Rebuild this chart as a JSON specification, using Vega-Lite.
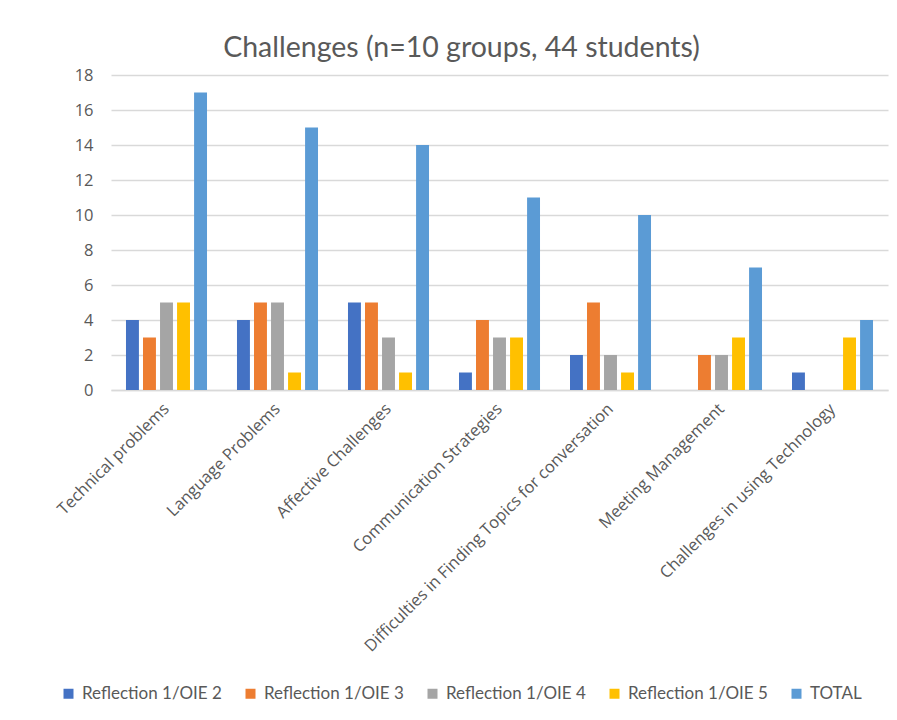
{
  "$schema": "https://vega.github.io/schema/vega-lite/v6.json",
  "width": 777,
  "height": 315,
  "autosize": {"type": "none"},
  "padding": {"left": 111, "top": 75, "right": 9, "bottom": 330},
  "background": "white",
  "title": {
    "text": "Challenges (n=10 groups, 44 students)",
    "font": "Lato",
    "fontSize": 28.5,
    "fontWeight": "normal",
    "color": "#595959",
    "anchor": "middle",
    "dx": -38,
    "offset": 5
  },
  "data": {
    "values": [
      {"category": "Technical problems", "series": "Reflection 1/OIE 2", "value": 4},
      {"category": "Technical problems", "series": "Reflection 1/OIE 3", "value": 3},
      {"category": "Technical problems", "series": "Reflection 1/OIE 4", "value": 5},
      {"category": "Technical problems", "series": "Reflection 1/OIE 5", "value": 5},
      {"category": "Technical problems", "series": "TOTAL", "value": 17},
      {"category": "Language Problems", "series": "Reflection 1/OIE 2", "value": 4},
      {"category": "Language Problems", "series": "Reflection 1/OIE 3", "value": 5},
      {"category": "Language Problems", "series": "Reflection 1/OIE 4", "value": 5},
      {"category": "Language Problems", "series": "Reflection 1/OIE 5", "value": 1},
      {"category": "Language Problems", "series": "TOTAL", "value": 15},
      {"category": "Affective Challenges", "series": "Reflection 1/OIE 2", "value": 5},
      {"category": "Affective Challenges", "series": "Reflection 1/OIE 3", "value": 5},
      {"category": "Affective Challenges", "series": "Reflection 1/OIE 4", "value": 3},
      {"category": "Affective Challenges", "series": "Reflection 1/OIE 5", "value": 1},
      {"category": "Affective Challenges", "series": "TOTAL", "value": 14},
      {"category": "Communication Strategies", "series": "Reflection 1/OIE 2", "value": 1},
      {"category": "Communication Strategies", "series": "Reflection 1/OIE 3", "value": 4},
      {"category": "Communication Strategies", "series": "Reflection 1/OIE 4", "value": 3},
      {"category": "Communication Strategies", "series": "Reflection 1/OIE 5", "value": 3},
      {"category": "Communication Strategies", "series": "TOTAL", "value": 11},
      {"category": "Difficulties in Finding Topics for conversation", "series": "Reflection 1/OIE 2", "value": 2},
      {"category": "Difficulties in Finding Topics for conversation", "series": "Reflection 1/OIE 3", "value": 5},
      {"category": "Difficulties in Finding Topics for conversation", "series": "Reflection 1/OIE 4", "value": 2},
      {"category": "Difficulties in Finding Topics for conversation", "series": "Reflection 1/OIE 5", "value": 1},
      {"category": "Difficulties in Finding Topics for conversation", "series": "TOTAL", "value": 10},
      {"category": "Meeting Management", "series": "Reflection 1/OIE 2", "value": 0},
      {"category": "Meeting Management", "series": "Reflection 1/OIE 3", "value": 2},
      {"category": "Meeting Management", "series": "Reflection 1/OIE 4", "value": 2},
      {"category": "Meeting Management", "series": "Reflection 1/OIE 5", "value": 3},
      {"category": "Meeting Management", "series": "TOTAL", "value": 7},
      {"category": "Challenges in using Technology", "series": "Reflection 1/OIE 2", "value": 1},
      {"category": "Challenges in using Technology", "series": "Reflection 1/OIE 3", "value": 0},
      {"category": "Challenges in using Technology", "series": "Reflection 1/OIE 4", "value": 0},
      {"category": "Challenges in using Technology", "series": "Reflection 1/OIE 5", "value": 3},
      {"category": "Challenges in using Technology", "series": "TOTAL", "value": 4}
    ]
  },
  "mark": {"type": "bar"},
  "encoding": {
    "x": {
      "field": "category",
      "type": "nominal",
      "sort": null,
      "scale": {"paddingInner": 0.27, "paddingOuter": 0.135},
      "axis": {
        "title": null,
        "labelAngle": -45,
        "labelAlign": "right",
        "labelBaseline": "middle",
        "labelFont": "Open Sans",
        "labelFontSize": 16.5,
        "labelColor": "#595959",
        "labelPadding": 16,
        "labelLimit": 400,
        "ticks": false,
        "domainColor": "#d9d9d9",
        "domainWidth": 1.5
      }
    },
    "xOffset": {
      "field": "series",
      "type": "nominal",
      "sort": null,
      "scale": {"paddingInner": 0.24}
    },
    "y": {
      "field": "value",
      "type": "quantitative",
      "scale": {"domain": [0, 18], "nice": false},
      "axis": {
        "title": null,
        "values": [0, 2, 4, 6, 8, 10, 12, 14, 16, 18],
        "labelFont": "Open Sans",
        "labelFontSize": 16.5,
        "labelColor": "#595959",
        "labelPadding": 18,
        "ticks": false,
        "domain": false,
        "gridColor": "#d9d9d9",
        "gridWidth": 1.5
      }
    },
    "color": {
      "field": "series",
      "type": "nominal",
      "sort": null,
      "scale": {
        "domain": ["Reflection 1/OIE 2", "Reflection 1/OIE 3", "Reflection 1/OIE 4", "Reflection 1/OIE 5", "TOTAL"],
        "range": ["#4472C4", "#ED7D31", "#A5A5A5", "#FFC000", "#5B9BD5"]
      },
      "legend": {
        "title": null,
        "orient": "none",
        "direction": "horizontal",
        "legendX": -51,
        "legendY": 610,
        "symbolType": "square",
        "symbolSize": 100,
        "symbolStrokeWidth": 0,
        "labelFont": "Lato",
        "labelFontSize": 17,
        "labelColor": "#595959",
        "labelOffset": 5,
        "columnPadding": 20
      }
    }
  },
  "config": {
    "view": {"stroke": null}
  }
}
